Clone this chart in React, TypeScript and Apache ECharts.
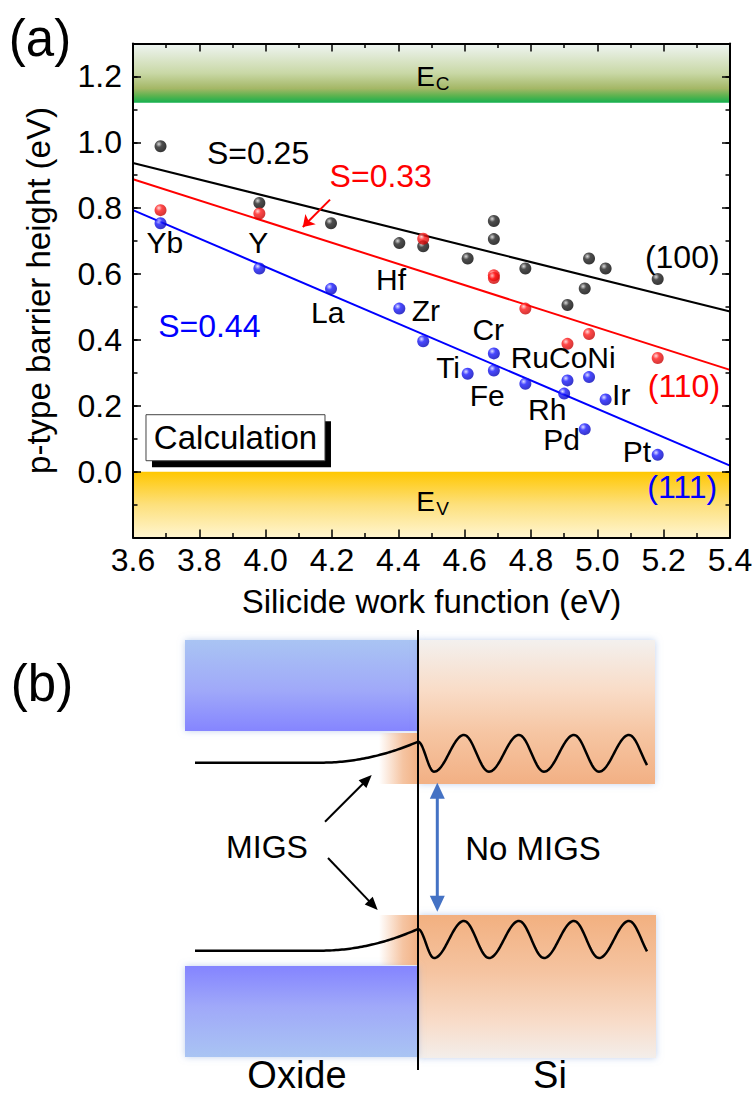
import React, { useEffect, useRef } from "react";
import * as echarts from "echarts";

// ---------------- Panel (a) data ----------------
const xTickLabels = [3.6, 3.8, 4.0, 4.2, 4.4, 4.6, 4.8, 5.0, 5.2, 5.4];
const yTickLabels = [0.0, 0.2, 0.4, 0.6, 0.8, 1.0, 1.2];

// (100) surface – black
const workFunction100 = [3.683, 3.981, 4.197, 4.403, 4.475, 4.609, 4.688, 4.688, 4.783, 4.91, 4.962, 4.975, 5.025, 5.182];
const barrier100 = [0.988, 0.816, 0.754, 0.694, 0.684, 0.647, 0.761, 0.706, 0.617, 0.506, 0.556, 0.647, 0.617, 0.585];

// (110) surface – red
const workFunction110 = [3.683, 3.981, 4.475, 4.688, 4.688, 4.783, 4.91, 4.975, 5.182];
const barrier110 = [0.794, 0.784, 0.707, 0.596, 0.588, 0.495, 0.388, 0.418, 0.345];

// (111) surface – blue
const silicides111 = ["Yb", "Y", "La", "Hf", "Zr", "Ti", "Cr", "Fe", "Ru", "Rh", "Co", "Ni", "Ir", "Pd", "Pt"];
const workFunction111 = [3.683, 3.981, 4.197, 4.403, 4.475, 4.609, 4.688, 4.688, 4.783, 4.9, 4.91, 4.975, 5.025, 4.962, 5.182];
const barrier111 = [0.754, 0.617, 0.555, 0.495, 0.396, 0.297, 0.359, 0.307, 0.267, 0.237, 0.277, 0.287, 0.219, 0.129, 0.051];

// linear fits (S = slope)
const fitWorkFunction = [3.6, 5.4];
const fit100 = [0.937, 0.486];
const fit110 = [0.888, 0.309];
const fit111 = [0.794, 0.018];

// band edges (eV)
const conductionBandMin = 1.12;
const valenceBandMax = 0.0;

const X_MIN = 3.6, X_MAX = 5.4, Y_MIN = -0.2, Y_MAX = 1.3;

// annotation anchors (data coordinates)
const silicideLabels: [string, number, number][] = [
  ["Yb", 3.696, 0.695], ["Y", 3.978, 0.695], ["La", 4.187, 0.483], ["Hf", 4.378, 0.584],
  ["Zr", 4.483, 0.49], ["Cr", 4.671, 0.432], ["RuCoNi", 4.897, 0.347], ["Ti", 4.55, 0.316],
  ["Fe", 4.668, 0.23], ["Rh", 4.849, 0.19], ["Ir", 5.072, 0.235], ["Pd", 4.892, 0.099], ["Pt", 5.119, 0.061],
];
const surfaceLabels: [string, number, number, string][] = [
  ["(100)", 5.256, 0.653, "#000000"], ["(110)", 5.261, 0.259, "#ff0000"], ["(111)", 5.256, -0.047, "#0000ff"],
];
const slopeLabels: [string, number, number, string][] = [
  ["S=0.25", 3.977, 0.968, "#000000"], ["S=0.33", 4.347, 0.897, "#ff0000"], ["S=0.44", 3.83, 0.442, "#0000ff"],
];
const slopeArrow = [[4.194, 0.826], [4.112, 0.743]];
const calcBoxCenter = [3.909, 0.103];
const ecLabel = [4.5, 1.2];
const evLabel = [4.5, -0.092];

const FONT = '"Liberation Sans", Arial, Helvetica, sans-serif';

function sphere(base: string, light: string, dark: string) {
  return {
    type: "radial", x: 0.36, y: 0.32, r: 0.75,
    colorStops: [
      { offset: 0, color: light },
      { offset: 0.35, color: base },
      { offset: 1, color: dark },
    ],
  };
}

function pairs(xs: number[], ys: number[]) {
  return xs.map((x, i) => [x, ys[i]]);
}

function arrow(x1: number, y1: number, x2: number, y2: number, color: string, lw: number, hl: number, hw: number) {
  const dx = x2 - x1, dy = y2 - y1, L = Math.hypot(dx, dy);
  const ux = dx / L, uy = dy / L, nx = -uy, ny = ux;
  const bx = x2 - ux * hl, by = y2 - uy * hl;
  return [
    { type: "line", z: 60, shape: { x1, y1, x2: bx + ux, y2: by + uy }, style: { stroke: color, lineWidth: lw } },
    {
      type: "polygon", z: 60,
      shape: { points: [[x2, y2], [bx + (nx * hw) / 2, by + (ny * hw) / 2], [bx - (nx * hw) / 2, by - (ny * hw) / 2]] },
      style: { fill: color },
    },
  ];
}

function wavePoints(flatY: number, joinY: number, minY: number, peakY: number) {
  const pts: number[][] = [[195, flatY], [320, flatY]];
  for (let x = 322; x <= 418; x += 2) {
    const t = (x - 320) / 98;
    pts.push([x, flatY - (flatY - joinY) * t * t]);
  }
  for (let x = 419; x <= 434; x += 1) {
    const t = (x - 418) / 16;
    pts.push([x, joinY + ((minY - joinY) * (1 - Math.cos(Math.PI * t))) / 2]);
  }
  const period = 55, rise = 30, fall = 25;
  for (let x = 435; x <= 647; x += 1) {
    const p = (x - 434) % period;
    let y;
    if (p < rise) y = minY - ((minY - peakY) * (1 - Math.cos((Math.PI * p) / rise))) / 2;
    else y = peakY + ((minY - peakY) * (1 - Math.cos((Math.PI * (p - rise)) / fall))) / 2;
    pts.push([x, y]);
  }
  return pts;
}

function lg(stops: [number, string][], horizontal = false) {
  return new echarts.graphic.LinearGradient(0, 0, horizontal ? 1 : 0, horizontal ? 0 : 1,
    stops.map(([offset, color]) => ({ offset, color })));
}

function text(t: string, x: number, y: number, size: number, color = "#000", z = 70) {
  return {
    type: "text", z, x, y,
    style: { text: t, fill: color, fontSize: size, fontFamily: FONT, align: "center", verticalAlign: "middle" },
  };
}

function axisCommon(extra: any) {
  return {
    z: 10,
    axisLine: { show: true, onZero: false, lineStyle: { color: "#000", width: 2 } },
    splitLine: { show: false },
    ...extra,
  };
}

export default function App() {
  const ref = useRef<HTMLDivElement>(null);
  useEffect(() => {
    document.body.style.margin = "0";
    const chart = echarts.init(ref.current!, null, { renderer: "svg" });

    const majorTick = { show: true, inside: true, length: 8, lineStyle: { color: "#000", width: 1.5 } };
    const minorTickY = { show: true, inside: true, length: 4.5, lineStyle: { color: "#000", width: 1.5 } };

    const ecGrad = lg([[0, "#eff5f3"], [0.5, "#c9d8a6"], [0.76, "#a4b766"], [0.88, "#5db34f"], [1, "#14b04f"]]);
    const evGrad = lg([[0, "#ffc700"], [0.5, "#fde07c"], [1, "#fff5cf"]]);

    chart.setOption({
      animation: false,
      grid: { left: 133, top: 43.5, width: 597, height: 494, containLabel: false, outerBoundsMode: "none" },
      xAxis: [
        axisCommon({
          type: "value", position: "bottom", min: X_MIN, max: X_MAX, interval: 0.2,
          axisTick: majorTick,
          minorTick: { show: true, splitNumber: 2, length: 4.5, lineStyle: { color: "#000", width: 1.5 } },
          axisLabel: { show: true, margin: 6, fontSize: 32, color: "#000", fontFamily: FONT,
            formatter: (v: number) => (xTickLabels.some((t) => Math.abs(t - v) < 1e-6) ? v.toFixed(1) : "") },
          name: "Silicide work function (eV)", nameLocation: "middle", nameGap: 47,
          nameTextStyle: { fontSize: 33, color: "#000", fontFamily: FONT },
        }),
        axisCommon({
          type: "value", position: "top", min: X_MIN, max: X_MAX, interval: 0.2,
          axisTick: majorTick,
          minorTick: { show: true, splitNumber: 2, length: 4.5, lineStyle: { color: "#000", width: 1.5 } },
          axisLabel: { show: false },
        }),
      ],
      yAxis: [
        axisCommon({
          type: "value", position: "left", min: Y_MIN, max: Y_MAX, interval: 0.2,
          axisTick: majorTick,
          axisLabel: { show: true, margin: 11, fontSize: 32, color: "#000", fontFamily: FONT,
            formatter: (v: number) => (yTickLabels.some((t) => Math.abs(t - v) < 1e-6) ? v.toFixed(1) : "") },
          name: "p-type barrier height (eV)", nameLocation: "middle", nameGap: 78, nameRotate: 90,
          nameTextStyle: { fontSize: 33, color: "#000", fontFamily: FONT },
        }),
        axisCommon({
          type: "value", position: "left", min: Y_MIN, max: Y_MAX, interval: 0.1,
          axisLine: { show: false, onZero: false }, axisTick: minorTickY, axisLabel: { show: false },
        }),
        axisCommon({
          type: "value", position: "right", min: Y_MIN, max: Y_MAX, interval: 0.2,
          axisTick: majorTick, axisLabel: { show: false },
        }),
        axisCommon({
          type: "value", position: "right", min: Y_MIN, max: Y_MAX, interval: 0.1,
          axisLine: { show: false, onZero: false }, axisTick: minorTickY, axisLabel: { show: false },
        }),
      ],
      series: [
        {
          type: "custom", z: 1, silent: true,
          encode: { x: [0, 1], y: [2, 3] },
          data: [
            [X_MIN, X_MAX, conductionBandMin, Y_MAX, 0],
            [X_MIN, X_MAX, Y_MIN, valenceBandMax, 1],
          ],
          renderItem: (params: any, api: any) => {
            const p1 = api.coord([api.value(0), api.value(3)]);
            const p2 = api.coord([api.value(1), api.value(2)]);
            return {
              type: "rect",
              shape: { x: p1[0], y: p1[1], width: p2[0] - p1[0], height: p2[1] - p1[1] },
              style: { fill: api.value(4) === 0 ? ecGrad : evGrad },
            };
          },
        },
        { type: "line", z: 3, symbol: "none", silent: true, data: pairs(fitWorkFunction, fit100), lineStyle: { color: "#000", width: 2 } },
        {
          type: "line", z: 3, symbol: "none", silent: true, data: pairs(fitWorkFunction, fit110), lineStyle: { color: "#ff0000", width: 2 },
          markLine: {
            silent: true, symbol: ["none", "arrow"], symbolSize: 11, label: { show: false },
            lineStyle: { color: "#ff0000", width: 2, type: "solid" },
            data: [[{ coord: slopeArrow[0] }, { coord: slopeArrow[1] }]],
          },
        },
        { type: "line", z: 3, symbol: "none", silent: true, data: pairs(fitWorkFunction, fit111), lineStyle: { color: "#0000ff", width: 2 } },
        {
          type: "scatter", z: 5, symbolSize: 12, data: pairs(workFunction100, barrier100),
          itemStyle: { color: sphere("#222222", "#d0d0d0", "#000000") },
        },
        {
          type: "scatter", z: 6, symbolSize: 12, data: pairs(workFunction110, barrier110),
          itemStyle: { color: sphere("#ff1a1a", "#ffd0d0", "#c00000") },
        },
        {
          type: "scatter", z: 7, symbolSize: 12,
          data: silicides111.map((n, i) => ({ name: n, value: [workFunction111[i], barrier111[i]] })),
          itemStyle: { color: sphere("#1a1aff", "#d6d6ff", "#0000b0") },
        },
      ],
    });

    const px = (x: number, y: number) => chart.convertToPixel({ seriesIndex: 4 }, [x, y]) as number[];
    const g: any[] = [];

    // panel (a) annotations
    silicideLabels.forEach(([t, x, y]) => { const p = px(x, y); g.push(text(t, p[0], p[1], 30)); });
    surfaceLabels.forEach(([t, x, y, c]) => { const p = px(x, y); g.push(text(t, p[0], p[1], 32, c)); });
    slopeLabels.forEach(([t, x, y, c]) => { const p = px(x, y); g.push(text(t, p[0], p[1], 32, c)); });
    const ec = px(ecLabel[0], ecLabel[1]);
    g.push(text("E", ec[0] - 6, ec[1], 28), text("C", ec[0] + 11, ec[1] + 7, 19));
    const ev = px(evLabel[0], evLabel[1]);
    g.push(text("E", ev[0] - 6, ev[1], 28), text("V", ev[0] + 11, ev[1] + 7, 19));
    const cb = px(calcBoxCenter[0], calcBoxCenter[1]);
    g.push(
      { type: "rect", z: 65, shape: { x: cb[0] - 89.5 + 6, y: cb[1] - 23 + 6.5, width: 179, height: 46 }, style: { fill: "#000" } },
      { type: "rect", z: 66, shape: { x: cb[0] - 89.5, y: cb[1] - 23, width: 179, height: 46 }, style: { fill: "#fff", stroke: "#444", lineWidth: 1 } },
      text("Calculation", cb[0], cb[1], 33, "#000", 67),
    );
    g.push(text("(a)", 40, 38, 51), text("(b)", 42, 683, 51));

    // panel (b) schematic
    const halo = { shadowBlur: 7, shadowColor: "rgba(140,170,225,0.55)" };
    g.push(
      { type: "rect", z: 40, shape: { x: 185, y: 640, width: 233, height: 91 },
        style: { fill: lg([[0, "#a9c4f3"], [0.55, "#a0a9f9"], [1, "#8585ff"]]), ...halo } },
      { type: "rect", z: 40, shape: { x: 418, y: 640, width: 237, height: 144 },
        style: { fill: lg([[0, "#f3f0ee"], [0.35, "#f9dcc7"], [0.65, "#f6c5a2"], [1, "#f2b084"]]), ...halo } },
      { type: "rect", z: 41, shape: { x: 379, y: 733, width: 40, height: 51 },
        style: { fill: lg([[0, "rgba(242,176,130,0)"], [0.6, "rgba(242,176,130,0.75)"], [1, "rgba(242,176,130,1)"]], true) } },
      { type: "rect", z: 40, shape: { x: 418, y: 915, width: 238, height: 143 },
        style: { fill: lg([[0, "#f2b080"], [0.4, "#f5c4a1"], [0.75, "#f8dcc9"], [1, "#f3eeea"]]), ...halo } },
      { type: "rect", z: 41, shape: { x: 379, y: 915, width: 40, height: 50 },
        style: { fill: lg([[0, "rgba(242,176,130,0)"], [0.6, "rgba(242,176,130,0.75)"], [1, "rgba(242,176,130,1)"]], true) } },
      { type: "rect", z: 40, shape: { x: 185, y: 966, width: 233, height: 91 },
        style: { fill: lg([[0, "#8484ff"], [0.45, "#a0a9f9"], [1, "#a9c4f3"]]), ...halo } },
      { type: "line", z: 55, shape: { x1: 418, y1: 630, x2: 418, y2: 1070 }, style: { stroke: "#000", lineWidth: 2 } },
      { type: "polyline", z: 56, shape: { points: wavePoints(762.7, 741.7, 771.7, 735) }, style: { stroke: "#000", lineWidth: 2.5, fill: "none" } },
      { type: "polyline", z: 56, shape: { points: wavePoints(950.7, 929, 958, 921) }, style: { stroke: "#000", lineWidth: 2.5, fill: "none" } },
    );
    g.push(...arrow(325, 821.7, 371.7, 775, "#000", 2, 13, 11));
    g.push(...arrow(328, 858, 377.7, 910, "#000", 2, 13, 11));
    g.push(...arrow(437.3, 847, 437.3, 782.7, "#4472c4", 3, 16, 15));
    g.push(...arrow(437.3, 847, 437.3, 911.7, "#4472c4", 3, 16, 15));
    g.push(
      text("MIGS", 267, 847, 32),
      text("No MIGS", 533, 848, 33),
      text("Oxide", 297, 1075, 38),
      text("Si", 550, 1075, 38),
    );

    chart.setOption({ graphic: g });
    return () => chart.dispose();
  }, []);
  return <div ref={ref} style={{ width: 753, height: 1097 }} />;
}
